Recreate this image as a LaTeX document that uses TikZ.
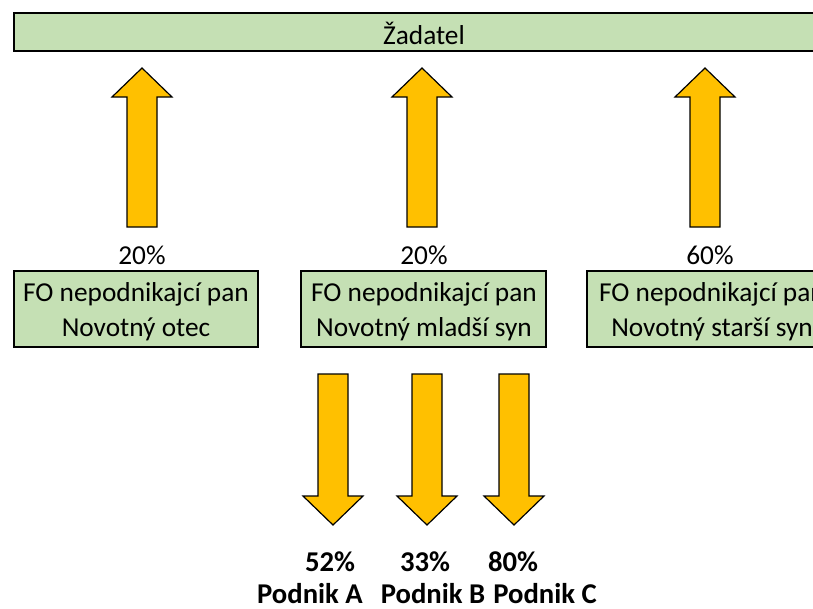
\documentclass[tikz,border=0pt]{standalone}
\usepackage{fontspec}
\setmainfont{Carlito}
\definecolor{boxgreen}{HTML}{C5E0B4}
\definecolor{arrgold}{HTML}{FFC000}
\tikzset{
  box/.style={draw=black, line width=2.2pt, fill=boxgreen},
  blk/.style={draw=black, line width=0.9pt, fill=arrgold, line join=miter},
  txt/.style={font=\fontsize{20.5}{26}\selectfont, align=center, inner sep=0pt},
  btxt/.style={font=\fontsize{21.5}{26}\selectfont\bfseries, inner sep=0pt}
}
\begin{document}
\begin{tikzpicture}[x=0.75pt,y=-0.75pt]
				\useasboundingbox (0,0) rectangle (813,608);
				\clip (0,0) rectangle (813,608);
				% zadatel
				\draw[box] (14,13) rectangle (834,51);
				\node[txt] (zad) at (424,33) {Žadatel};
				% boxes
				\draw[box] (14,271) rectangle (258,347);
				\draw[box] (301,271) rectangle (546,347);
				\draw[box] (587,271) rectangle (833,347);
				\node[txt] (otec) at (136,312) {FO nepodnikajcí pan\\Novotný otec};
				\node[txt] (mladsi) at (424,312) {FO nepodnikajcí pan\\Novotný mladší syn};
				\node[txt] (starsi) at (712,312) {FO nepodnikajcí pan\\Novotný starší syn};
				% up arrows
				\foreach \x in {142,422,705}
					\draw[blk, shift={(\x,0)}] (-15,227) -- (-15,97) -- (-30,97) -- (0,68) -- (30,97) -- (15,97) -- (15,227) -- cycle;
				\node[txt] (p1) at (142,255) {20\%};
				\node[txt] (p2) at (424,255) {20\%};
				\node[txt] (p3) at (710,255) {60\%};
				% down arrows
				\foreach \x in {333,427,514}
					\draw[blk, shift={(\x,0)}] (-15,374) -- (-15,496) -- (-30,496) -- (0,525) -- (30,496) -- (15,496) -- (15,374) -- cycle;
				\node[btxt] (pa) at (330,562) {52\%};
				\node[btxt] (pb) at (425,562) {33\%};
				\node[btxt] (pc) at (513,562) {80\%};
				\node[btxt] (na) at (310,594) {Podnik A};
				\node[btxt] (nb) at (433,594) {Podnik B};
				\node[btxt] (nc) at (545,594) {Podnik C};
			\end{tikzpicture}
\end{document}
